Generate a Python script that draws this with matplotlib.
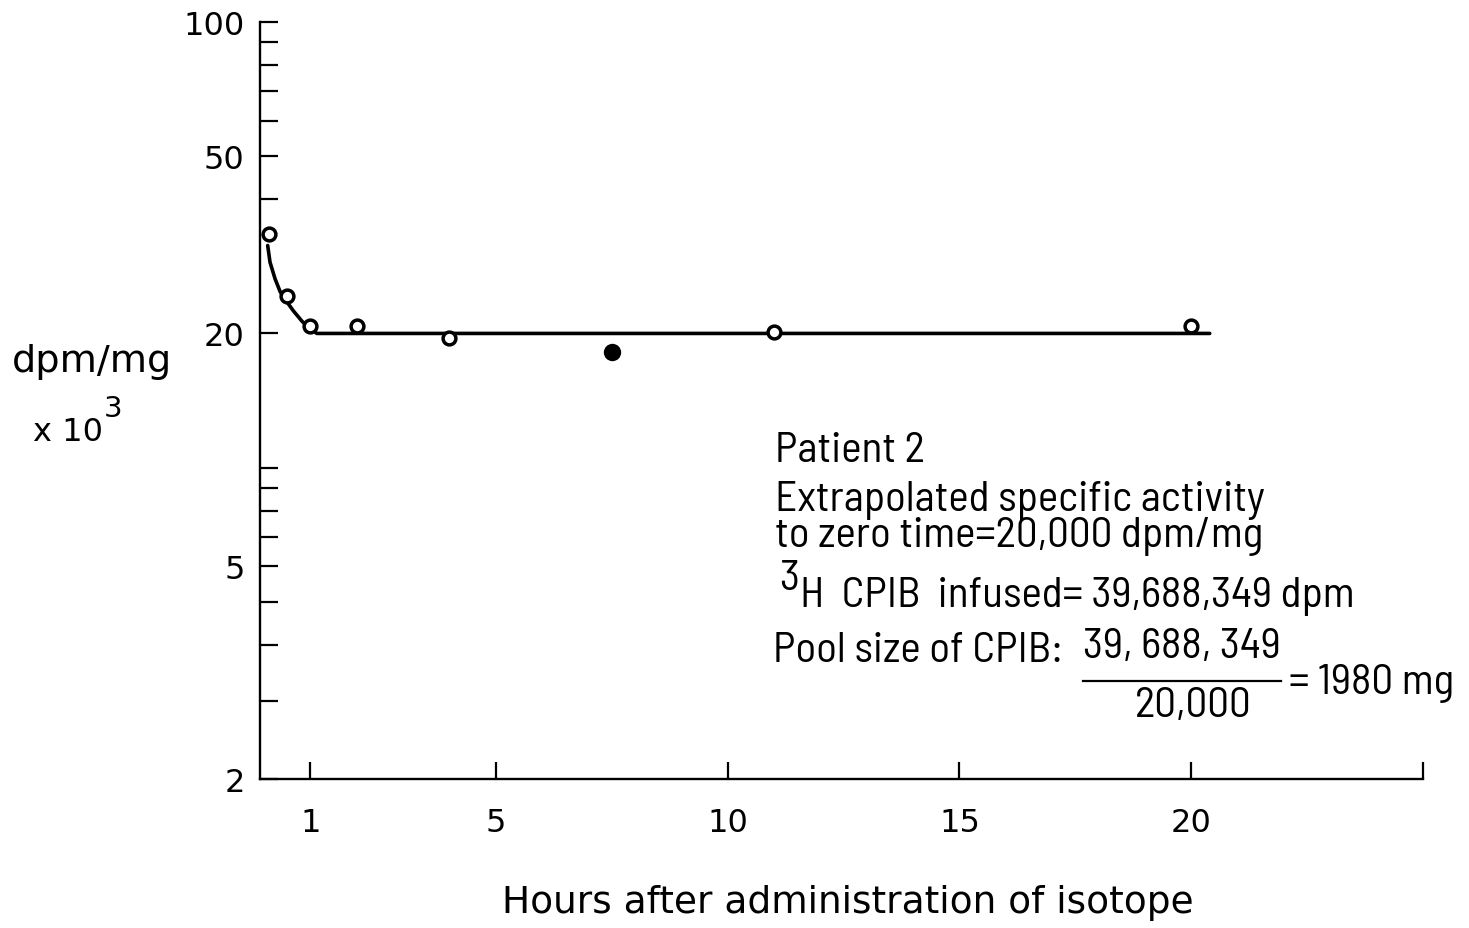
import matplotlib
matplotlib.use("Agg")
import matplotlib.pyplot as plt
import matplotlib.font_manager as fm
from matplotlib.ticker import FixedLocator, FixedFormatter, NullFormatter
from matplotlib.lines import Line2D

# ---------------- data ----------------
open_hours = [0.1, 0.5, 1, 2, 4, 11, 20]
open_activity = [33.4, 24.3, 20.8, 20.8, 19.5, 20.2, 20.8]
filled_hours = [7.5]
filled_activity = [18.2]

curve_hours = [0.08, 0.13, 0.24, 0.35, 0.45, 0.63, 0.82, 0.99, 1.14, 1.4, 20.4]
curve_activity = [31.5, 28.9, 26.5, 24.8, 23.9, 22.5, 21.3, 20.5, 20.0, 20.0, 20.0]

x_ticks = [1, 5, 10, 15, 20, 25]
x_tick_labels = ["1", "5", "10", "15", "20", ""]
y_major = [100, 50, 20, 6, 2]
y_major_labels = ["100", "50", "20", "5", "2"]
y_minor = [90, 80, 70, 60, 40, 10, 9, 8, 7, 5, 4, 3]

# ---------------- fonts ----------------
ttf = fm.fontManager.ttflist


def find_font(prefs, fallback):
    for pref in prefs:
        hits = [f for f in ttf if f.name == pref and f.style == "normal"
                and f.weight in (400, "normal", "regular")]
        if hits:
            return fm.FontProperties(fname=hits[0].fname)
    return fm.FontProperties(family=fallback)


narrow_fp = find_font(["Barlow Semi Condensed", "Encode Sans Semi Condensed", "Roboto Condensed"], "DejaVu Sans")
main_fp = fm.FontProperties(family="DejaVu Sans")

# ---------------- figure ----------------
W, H = 1469, 929
fig = plt.figure(figsize=(W / 100, H / 100), dpi=100)
fig.patch.set_facecolor("white")
ax = fig.add_axes([260 / W, 1 - 780 / H, (1423 - 260) / W, (780 - 23) / H])
ax.set_yscale("log")
ax.set_xlim(-0.086, 25)
ax.set_ylim(2, 100)

for s in ("top", "right"):
    ax.spines[s].set_visible(False)
for s in ("left", "bottom"):
    ax.spines[s].set_linewidth(1.7)
    ax.spines[s].set_color("black")

ax.plot(curve_hours, curve_activity, color="black", lw=2.6, solid_capstyle="round", zorder=2)
ax.plot(open_hours, open_activity, linestyle="none", marker="o", ms=9.2, mew=2.5,
        mfc="white", mec="black", zorder=3)
ax.plot(filled_hours, filled_activity, linestyle="none", marker="o", ms=11, mew=1.5,
        mfc="black", mec="black", zorder=3)

ax.xaxis.set_major_locator(FixedLocator(x_ticks))
ax.xaxis.set_major_formatter(FixedFormatter(x_tick_labels))
ax.yaxis.set_major_locator(FixedLocator(y_major))
ax.yaxis.set_major_formatter(FixedFormatter(y_major_labels))
ax.yaxis.set_minor_locator(FixedLocator(y_minor))
ax.yaxis.set_minor_formatter(NullFormatter())
ax.xaxis.set_minor_locator(FixedLocator([]))

ax.tick_params(axis="x", which="major", direction="in", length=12.5, width=1.6, pad=20, labelsize=23)
ax.tick_params(axis="y", which="both", direction="in", length=13, width=1.6, pad=11, labelsize=23)
for lab in ax.get_xticklabels() + ax.get_yticklabels():
    lab.set_fontproperties(main_fp)
    lab.set_fontsize(23)

renderer = fig.canvas.get_renderer()


def fitted(s, x0, x1, yc, fp, size=20):
    t = fig.text(x0 / W, 1 - yc / H, s, ha="left", va="center", fontproperties=fp, fontsize=size)
    w = t.get_window_extent(renderer).width
    return t, size * (x1 - x0) / w


def place(specs, fp):
    made = [fitted(*sp, fp) for sp in specs]
    sizes = sorted(m[1] for m in made)
    med = sizes[len(sizes) // 2]
    for t, _ in made:
        t.set_fontsize(med)
    return med


# y-axis label
place([("dpm/mg", 12, 172, 362)], main_fp)
fig.text(33 / W, 1 - 433 / H, "x 10", ha="left", va="center", fontproperties=main_fp, fontsize=23)
fig.text(104 / W, 1 - 409 / H, "3", ha="left", va="center", fontproperties=main_fp, fontsize=21)

# x-axis label
place([("Hours after administration of isotope", 502, 1195, 903)], main_fp)

# annotation block
ann_size = place([
    ("Patient 2", 775, 913, 451),
    ("Extrapolated specific activity", 775, 1222, 501),
    ("to zero time=20,000 dpm/mg", 775, 1253, 537),
    ("H  CPIB  infused= 39,688,349 dpm", 800, 1370, 597),
    ("Pool size of CPIB:", 773, 1063, 651),
    ("39, 688, 349", 1083, 1283, 648),
    ("= 1980 mg", 1289, 1450, 684),
    ("20,000", 1135, 1263, 707),
], narrow_fp)
fig.text(779 / W, 1 - 580 / H, "3", ha="left", va="center", fontproperties=narrow_fp, fontsize=ann_size)
fig.add_artist(Line2D([1083 / W, 1281 / W], [1 - 682 / H, 1 - 682 / H], transform=fig.transFigure,
                      color="black", lw=1.6))

fig.savefig("out.png", dpi=100, facecolor="white")
